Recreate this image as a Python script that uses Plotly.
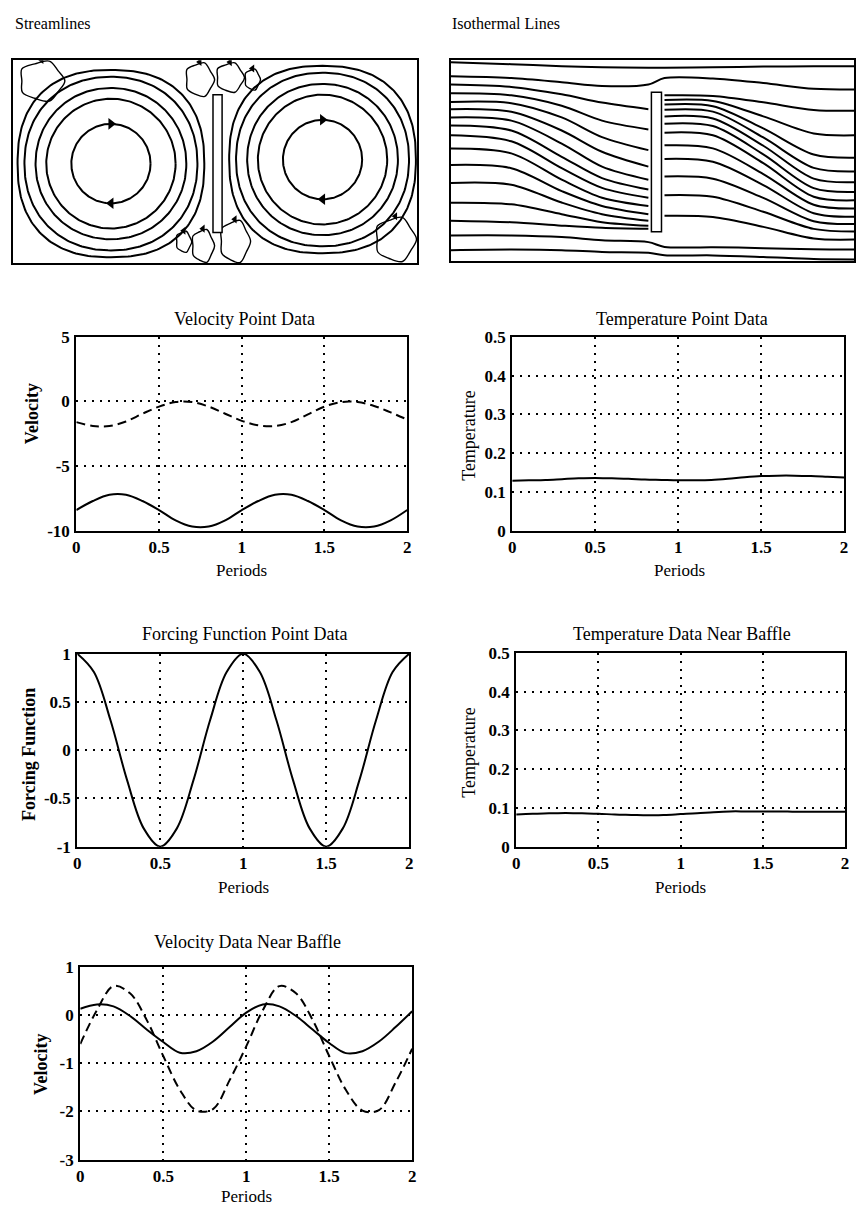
import numpy as np
import plotly.graph_objects as go

W, H = 860, 1216
FONT = "Liberation Serif"

# ---------------- time-series data ----------------
periods = [0.0, 0.1, 0.2, 0.3, 0.4, 0.5, 0.6, 0.7, 0.8, 0.9, 1.0,
           1.1, 1.2, 1.3, 1.4, 1.5, 1.6, 1.7, 1.8, 1.9, 2.0]

vel_point_solid = [-8.4, -7.7, -7.22, -7.22, -7.7, -8.4, -9.2, -9.68, -9.68, -9.2, -8.4,
                   -7.7, -7.22, -7.22, -7.7, -8.4, -9.2, -9.68, -9.68, -9.2, -8.4]
vel_point_dashed = [-1.6, -1.9, -1.9, -1.55, -0.95, -0.4, -0.05, -0.05, -0.4, -0.95, -1.5,
                    -1.85, -1.9, -1.6, -1.0, -0.4, -0.05, -0.05, -0.35, -0.85, -1.4]

temp_point = [0.129, 0.130, 0.131, 0.133, 0.135, 0.136, 0.135, 0.134, 0.132, 0.131, 0.130,
              0.130, 0.131, 0.134, 0.138, 0.141, 0.142, 0.142, 0.141, 0.139, 0.137]

forcing = [1.0, 0.81, 0.31, -0.31, -0.81, -1.0, -0.81, -0.31, 0.31, 0.81, 1.0,
           0.81, 0.31, -0.31, -0.81, -1.0, -0.81, -0.31, 0.31, 0.81, 1.0]

temp_baffle = [0.083, 0.085, 0.086, 0.087, 0.086, 0.085, 0.083, 0.082, 0.081, 0.082, 0.084,
               0.086, 0.089, 0.091, 0.091, 0.091, 0.091, 0.090, 0.090, 0.090, 0.090]

vel_baffle_solid = [0.13, 0.22, 0.18, -0.02, -0.3, -0.56, -0.78, -0.75, -0.55, -0.25, 0.05,
                    0.22, 0.18, -0.02, -0.3, -0.58, -0.79, -0.75, -0.55, -0.25, 0.08]
vel_baffle_dashed = [-0.6, 0.1, 0.6, 0.45, -0.1, -0.85, -1.55, -1.98, -1.95, -1.35, -0.65,
                     0.1, 0.6, 0.45, -0.1, -0.85, -1.55, -1.98, -1.97, -1.4, -0.7]

x_ticks = [0, 0.5, 1, 1.5, 2]
x_tick_labels = ["0", "0.5", "1", "1.5", "2"]
vel_ticks = [-10, -5, 0, 5]
temp_ticks = [0, 0.1, 0.2, 0.3, 0.4, 0.5]
temp_tick_labels = ["0", "0.1", "0.2", "0.3", "0.4", "0.5"]
forcing_ticks = [-1, -0.5, 0, 0.5, 1]
forcing_tick_labels = ["-1", "-0.5", "0", "0.5", "1"]
velb_ticks = [-3, -2, -1, 0, 1]

# ---------------- streamline sketch data ----------------
vortex_cx = [0.485, 1.532]
vortex_cy = [0.49, 0.51]
loop_radii = [0.196, 0.32, 0.373, 0.428, 0.462]
loop_exponents = [2.0, 2.0, 2.05, 2.15, 2.4]

eddy_x = [0.142, 0.924, 1.074, 1.185, 0.94, 0.845, 1.098, 1.892]
eddy_y = [0.898, 0.905, 0.915, 0.905, 0.085, 0.105, 0.107, 0.117]
eddy_rx = [0.115, 0.074, 0.072, 0.04, 0.058, 0.04, 0.078, 0.105]
eddy_ry = [0.095, 0.08, 0.07, 0.05, 0.078, 0.05, 0.1, 0.105]
eddy_wobble = [1.0, 0.88, 1.08, 0.93, 1.05, 0.85, 1.02, 0.95, 1.1, 0.9]

stream_baffle = [0.99, 1.035, 0.15, 0.83]   # x0, x1, y0, y1

# ---------------- isotherm sketch data ----------------
iso_x_left = [0.0, 0.3, 0.55, 0.75, 0.98]
iso_x_right = [1.06, 1.3, 1.55, 1.8, 2.0]
iso_y_left = [
    [0.99, 0.98, 0.97, 0.965, 0.962],
    [0.920, 0.911, 0.890, 0.871, 0.879],
    [0.879, 0.867, 0.830, 0.789, 0.756],
    [0.835, 0.825, 0.773, 0.699, 0.655],
    [0.792, 0.786, 0.715, 0.617, 0.552],
    [0.756, 0.743, 0.650, 0.544, 0.470],
    [0.715, 0.699, 0.585, 0.470, 0.405],
    [0.675, 0.650, 0.519, 0.413, 0.356],
    [0.626, 0.596, 0.462, 0.364, 0.315],
    [0.560, 0.536, 0.405, 0.315, 0.274],
    [0.478, 0.462, 0.348, 0.274, 0.233],
    [0.389, 0.380, 0.291, 0.233, 0.200],
    [0.290, 0.282, 0.233, 0.193, 0.175],
    [0.201, 0.193, 0.176, 0.165, 0.160],
    [0.127, 0.127, 0.119, 0.103, 0.094],
    [0.054, 0.057, 0.054, 0.045, 0.041],
]
iso_y_right = [
    [0.962, 0.965, 0.968, 0.970, 0.970],
    [0.911, 0.909, 0.886, 0.858, 0.854],
    [0.825, 0.822, 0.790, 0.752, 0.748],
    [0.802, 0.797, 0.720, 0.635, 0.626],
    [0.779, 0.771, 0.660, 0.530, 0.514],
    [0.753, 0.744, 0.615, 0.464, 0.446],
    [0.720, 0.710, 0.574, 0.410, 0.392],
    [0.684, 0.672, 0.531, 0.363, 0.344],
    [0.639, 0.626, 0.487, 0.320, 0.302],
    [0.576, 0.561, 0.433, 0.280, 0.261],
    [0.508, 0.494, 0.378, 0.238, 0.220],
    [0.421, 0.410, 0.314, 0.198, 0.184],
    [0.328, 0.320, 0.245, 0.160, 0.147],
    [0.225, 0.219, 0.170, 0.112, 0.107],
    [0.070, 0.069, 0.064, 0.058, 0.057],
    [0.029, 0.028, 0.020, 0.010, 0.008],
]
iso_passes_baffle = [True, True, False, False, False, False, False, False,
                     False, False, False, False, False, False, True, True]
iso_baffle = [0.995, 1.045, 0.146, 0.84]


def xd(a, b):
    return [a / W, b / W]


def yd(top, bot):
    return [1 - bot / H, 1 - top / H]


fig = go.Figure()
BLK = "black"

# ---- streamlines ----
th = np.linspace(0, 2 * np.pi, 241)
for cx, cy in zip(vortex_cx, vortex_cy):
    for r, n in zip(loop_radii, loop_exponents):
        c, s = np.cos(th), np.sin(th)
        xs = cx + r * np.sign(c) * np.abs(c) ** (2 / n)
        ys = cy + r * np.sign(s) * np.abs(s) ** (2 / n)
        fig.add_trace(go.Scatter(x=xs, y=ys, mode="lines", xaxis="x", yaxis="y",
                                 line=dict(color=BLK, width=2), hoverinfo="skip"))
    r0 = loop_radii[0]
    fig.add_trace(go.Scatter(x=[cx, cx], y=[cy + r0, cy - r0], mode="markers",
                             xaxis="x", yaxis="y",
                             marker=dict(symbol=["triangle-right", "triangle-left"],
                                         size=10, color=BLK), hoverinfo="skip"))

thb = np.linspace(0, 2 * np.pi, len(eddy_wobble) + 1)
for ex, ey, rx, ry in zip(eddy_x, eddy_y, eddy_rx, eddy_ry):
    wob = np.array(eddy_wobble + [eddy_wobble[0]])
    xs = ex + rx * wob * np.cos(thb)
    ys = ey + ry * wob * np.sin(thb)
    fig.add_trace(go.Scatter(x=xs, y=ys, mode="lines", xaxis="x", yaxis="y",
                             line=dict(color=BLK, width=1.4, shape="spline", smoothing=1.0),
                             hoverinfo="skip"))
    fig.add_trace(go.Scatter(x=[ex], y=[ey + ry * wob[2]], mode="markers", xaxis="x", yaxis="y",
                             marker=dict(symbol="triangle-left", size=7, color=BLK),
                             hoverinfo="skip"))

# ---- isotherms ----
for yl, yr, thru in zip(iso_y_left, iso_y_right, iso_passes_baffle):
    if thru:
        xs = iso_x_left + iso_x_right
        ys = yl + yr
    else:
        xs = iso_x_left + [None] + iso_x_right
        ys = yl + [None] + yr
    fig.add_trace(go.Scatter(x=xs, y=ys, mode="lines", xaxis="x2", yaxis="y2",
                             line=dict(color=BLK, width=2, shape="spline", smoothing=0.9),
                             connectgaps=False, hoverinfo="skip"))

# ---- point data plots ----
SOLID = dict(color=BLK, width=2, shape="spline", smoothing=1.0)
DASHED = dict(color=BLK, width=2, shape="spline", smoothing=1.0, dash="9px,5px")


def add(yv, ax, line):
    fig.add_trace(go.Scatter(x=periods, y=yv, mode="lines", xaxis="x" + ax, yaxis="y" + ax,
                             line=line, hoverinfo="skip"))


add(vel_point_dashed, "3", DASHED)
add(vel_point_solid, "3", SOLID)
add(temp_point, "4", SOLID)
add(forcing, "5", SOLID)
add(temp_baffle, "6", SOLID)
add(vel_baffle_dashed, "7", DASHED)
add(vel_baffle_solid, "7", SOLID)

# ---- axes ----
frame = dict(showline=True, mirror=True, linecolor=BLK, zeroline=False, ticks="",
             showgrid=False, showticklabels=False)
TICKFONT = dict(family=FONT, size=17, color=BLK, weight="bold")
grid = dict(showgrid=True, gridcolor=BLK, gridwidth=1.8, griddash="2px,6px",
            showline=True, mirror=True, linecolor=BLK, linewidth=2.2, zeroline=False,
            ticks="", tickfont=TICKFONT)

layout = dict(
    width=W, height=H, margin=dict(l=0, r=0, t=0, b=0),
    paper_bgcolor="white", plot_bgcolor="white", showlegend=False,
    xaxis=dict(frame, domain=xd(9, 417), range=[0, 2], linewidth=1.8),
    yaxis=dict(frame, domain=yd(52, 258), range=[0, 1], linewidth=1.8),
    xaxis2=dict(frame, domain=xd(451, 858), range=[0, 2], linewidth=1.8, anchor="y2"),
    yaxis2=dict(frame, domain=yd(52, 256), range=[0, 1], linewidth=1.8, anchor="x2"),
)

plots = {
    "3": ((73, 407), (333, 530), [-10, 5], vel_ticks, [str(v) for v in vel_ticks]),
    "4": ((513, 848), (333, 530), [0, 0.5], temp_ticks, temp_tick_labels),
    "5": ((74, 409), (655, 851), [-1, 1], forcing_ticks, forcing_tick_labels),
    "6": ((517, 849), (654, 851), [0, 0.5], temp_ticks, temp_tick_labels),
    "7": ((77, 412), (973, 1169), [-3, 1], velb_ticks, [str(v) for v in velb_ticks]),
}
for k, (xs, ys, yr, yt, ytl) in plots.items():
    layout["xaxis" + k] = dict(grid, domain=xd(*xs), range=[0, 2], anchor="y" + k,
                               tickvals=x_ticks, ticktext=x_tick_labels, ticklabelstandoff=0)
    layout["yaxis" + k] = dict(grid, domain=yd(*ys), range=yr, anchor="x" + k,
                               tickvals=yt, ticktext=ytl, ticklabelstandoff=1)

fig.update_layout(**layout)

# baffles
sb = stream_baffle
fig.add_shape(type="rect", xref="x", yref="y", x0=sb[0], x1=sb[1], y0=sb[2], y1=sb[3],
              fillcolor="white", line=dict(color=BLK, width=1.5), layer="above")
ib = iso_baffle
fig.add_shape(type="rect", xref="x2", yref="y2", x0=ib[0], x1=ib[1], y0=ib[2], y1=ib[3],
              fillcolor="white", line=dict(color=BLK, width=1.5), layer="above")

# ---- texts ----
def txt(s, x, y, size=18, angle=0, anchor="center", bold=False):
    fig.add_annotation(text=s, x=x / W, y=1 - y / H, xref="paper", yref="paper",
                       showarrow=False, textangle=angle, xanchor=anchor, yanchor="middle",
                       font=dict(family=FONT, size=size, color=BLK,
                                 weight="bold" if bold else "normal"))


txt("Streamlines", 9, 15, size=16, anchor="left")
txt("Isothermal Lines", 450, 15, size=16, anchor="left")

txt("Velocity Point Data", 243, 315)
txt("Temperature Point Data", 684, 315)
txt("Forcing Function Point Data", 243, 635)
txt("Temperature Data Near Baffle", 684, 635)
txt("Velocity Data Near Baffle", 246, 948)

txt("Periods", 240, 570, size=17)
txt("Periods", 682, 570, size=17)
txt("Periods", 242, 892, size=17)
txt("Periods", 683, 892, size=17)
txt("Periods", 245, 1206, size=17)

txt("Velocity", 28, 411, angle=-90, bold=True)
txt("Temperature", 470, 433, angle=-90)
txt("Forcing Function", 25, 757, angle=-90, bold=True)
txt("Temperature", 470, 755, angle=-90)
txt("Velocity", 38, 1072, angle=-90, bold=True)

fig.write_html("out.html")
